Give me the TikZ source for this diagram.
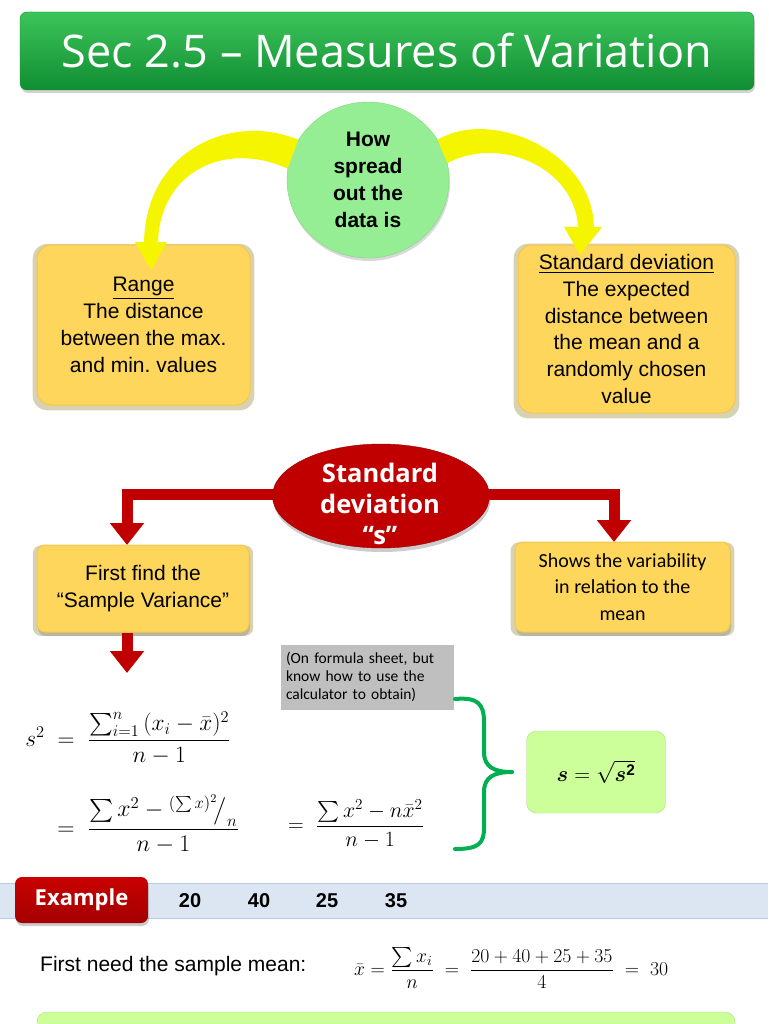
\RequirePackage{fix-cm}
\documentclass[tikz,border=0pt]{standalone}
\usepackage{amsmath}
\usepackage{fontspec}
\setmainfont{Liberation Sans}
\newfontfamily\calibrifont{Carlito}
\newfontfamily\titlefont[Ligatures=TeX]{Open Sans}
\usetikzlibrary{shapes.geometric,shadows,arrows.meta,calc}
\definecolor{titleA}{HTML}{3CC45A}
\definecolor{titleB}{HTML}{108E32}
\definecolor{gold}{HTML}{FFD65C}
\definecolor{goldedge}{HTML}{F2C64E}
\definecolor{goldshadow}{HTML}{B8AE78}
\definecolor{howgreen}{HTML}{96EE94}
\definecolor{howedge}{HTML}{7ED97C}
\definecolor{dred}{HTML}{C00000}
\definecolor{yarr}{HTML}{F5F500}
\definecolor{bracegreen}{HTML}{00B050}
\definecolor{lightgreen}{HTML}{CCFF99}
\definecolor{lightgreenedge}{HTML}{B0DC86}
\definecolor{bandblue}{HTML}{DCE6F2}
\definecolor{bandedge}{HTML}{B9CDE5}
\definecolor{grayb}{HTML}{BFBFBF}
\newcommand{\sformula}{$\boldsymbol{s}=\sqrt{\boldsymbol{s}^{\mathbf{2}}}$}
\frenchspacing
\tikzset{
  goldbox/.style={rectangle, rounded corners=14pt, fill=gold, draw=goldedge, line width=1pt,
    align=center, text=black, inner sep=4pt,
    drop shadow={opacity=0.55, fill=goldshadow, shadow xshift=0pt, shadow yshift=-2pt, shadow scale=1.04}},
  rarrow/.style={draw=dred, line width=11pt, -{Triangle[width=33pt,length=22pt]}},
  yfill/.style={fill=yarr},
  mathtxt/.style={inner sep=0pt, scale=1.3, font=\fontsize{18}{22}\selectfont},
  numtxt/.style={font=\bfseries\fontsize{20}{24}\selectfont},
}
\begin{document}
\begin{tikzpicture}[x=1pt,y=-1pt]
\useasboundingbox (0,0) rectangle (768,1024);
\fill[white] (0,0) rectangle (768,1024);

% title
\node[rectangle, rounded corners=7pt, minimum width=734pt, minimum height=78pt,
  top color=titleA, bottom color=titleB, draw=titleB, text=white,
  font=\titlefont\fontsize{45}{48}\selectfont,
  drop shadow={opacity=0.35, shadow xshift=1pt, shadow yshift=-3pt}] (title) at (387,51)
  {Sec 2.5 – Measures of Variation};

% top concept
\node[ellipse, minimum width=162pt, minimum height=156pt, inner sep=0pt, fill=howgreen, draw=howedge,
  align=center, font=\bfseries\fontsize{21}{27}\selectfont,
  drop shadow={opacity=0.3, shadow xshift=1pt, shadow yshift=-3pt}] (how) at (368,180)
  {How\\spread\\out the\\data is};

\node[goldbox, minimum width=213pt, minimum height=160pt, font=\fontsize{21}{27}\selectfont] (range) at (143.5,325)
  {\underline{Range}\\The distance\\between the max.\\and min. values};
\node[goldbox, minimum width=217pt, minimum height=168pt, font=\fontsize{21}{26.8}\selectfont] (sdbox) at (626.5,329)
  {\underline{Standard deviation}\\The expected\\distance between\\the mean and a\\randomly chosen\\value};

% yellow curved arrows
\fill[yfill] (how.150) .. controls (232,112) and (146,150) .. (144,242) -- (135,242) -- (151,270) -- (167,242) -- (158,242)
  .. controls (160,172) and (225,140) .. (how.172) -- cycle;
\fill[yfill] (how.30) .. controls (490,108) and (592,150) .. (594,227) -- (602,227) -- (580,255) -- (564,227) -- (578,227)
  .. controls (575,168) and (500,135) .. (how.12) -- cycle;

% red section
\coordinate (fa) at (127,545);
\coordinate (sa) at (614,542);
\coordinate (fb) at (127,673);
\draw[rarrow] (276,494) -| (fa);
\draw[rarrow] (486,494) -| (sa);

\node[ellipse, minimum width=217pt, minimum height=104pt, inner sep=0pt, fill=dred, draw=dred!80!black,
  drop shadow={opacity=0.4, shadow xshift=1pt, shadow yshift=-4pt}] (sd) at (381,496) {};
\node[text=white, align=center, font=\titlefont\bfseries\fontsize{25.5}{31}\selectfont] (sdtext) at (380,504)
  {Standard\\deviation\\“s”};

\node[goldbox, rounded corners=8pt, minimum width=212pt, minimum height=87pt, font=\fontsize{21}{27}\selectfont,
  drop shadow={opacity=0.35, shadow xshift=1pt, shadow yshift=-4pt}] (first) at (143,588.5)
  {First find the\\“Sample Variance”};
\node[goldbox, rounded corners=8pt, minimum width=215pt, minimum height=90pt, font=\calibrifont\fontsize{20}{26.5}\selectfont,
  drop shadow={opacity=0.35, shadow xshift=1pt, shadow yshift=-4pt}] (shows) at (622.5,587)
  {Shows the variability\\in relation to the\\mean};

\draw[rarrow] (first.south -| fa) -- (fb);

% grey note
\node[rectangle, fill=grayb, minimum width=173pt, minimum height=65pt, text width=163pt, align=left, inner sep=5pt,
  font=\calibrifont\fontsize{15.5}{18}\selectfont] (note) at (367.5,677)
  {(On formula sheet, but\\know how to use the\\calculator to obtain)};

% formulas
\node[mathtxt, anchor=west] (f1) at (25,738)
  {$s^2 \;=\; \dfrac{\sum_{i=1}^{n}\,(x_i-\bar{x})^2}{n-1}$};
\node[mathtxt, anchor=west, scale=1.02] (f2) at (57,824)
  {$=\; \dfrac{\sum x^2 - {}^{(\sum x)^2}\!\big/_{n}}{n-1}$};
\node[mathtxt, anchor=west, scale=0.93] (f3) at (288,824)
  {$=\; \dfrac{\sum x^2 - n\bar{x}^2}{n-1}$};

% s box
\node[rectangle, rounded corners=10pt, fill=lightgreen, draw=lightgreenedge, minimum width=139pt, minimum height=82pt, font=\fontsize{22}{26}\selectfont] (sroot) at (596,772) {\sformula};

% brace
\coordinate (bt) at (455,699);
\coordinate (bb) at (455,849);
\draw[draw=bracegreen, line width=4pt, line cap=round] (bt) .. controls (478,697) and (484,704) .. (484,722) -- (484,752) .. controls (484,767) and (494,772) .. (512,772);
\draw[draw=bracegreen, line width=4pt, line cap=round] (512,772) .. controls (494,772) and (484,777) .. (484,792) -- (484,828) .. controls (484,844) and (478,849) .. (bb);

% example band
\fill[bandblue] (0,883) rectangle (768,918);
\draw[bandedge, line width=0.8pt] (0,883) -- (768,883) (0,918) -- (768,918);
\node[rectangle, rounded corners=7pt, minimum width=133pt, minimum height=46pt,
  top color=dred!85!red, bottom color=dred!85!black, text=white,
  font=\titlefont\bfseries\fontsize{22}{24}\selectfont,
  drop shadow={opacity=0.4, shadow xshift=1pt, shadow yshift=-3pt}] (ex) at (81.5,900) {Example};
\node[numtxt] (n1) at (190,901) {20};
\node[numtxt] (n2) at (259,901) {40};
\node[numtxt] (n3) at (327,901) {25};
\node[numtxt] (n4) at (396,901) {35};

\node[anchor=west, inner sep=0pt, font=\fontsize{21}{24}\selectfont] (meantxt) at (40,966) {First need the sample mean:};
\node[anchor=west, inner sep=0pt, scale=1.16, font=\fontsize{17}{20}\selectfont] (meanf) at (354,968)
  {$\bar{x} = \dfrac{\sum x_i}{n} \;=\; \dfrac{20+40+25+35}{4} \;=\; 30$};

% bottom box (cut off)
\draw[fill=lightgreen, draw=lightgreenedge, rounded corners=10pt] (37,1012) rectangle (735,1060);
\end{tikzpicture}
\end{document}
